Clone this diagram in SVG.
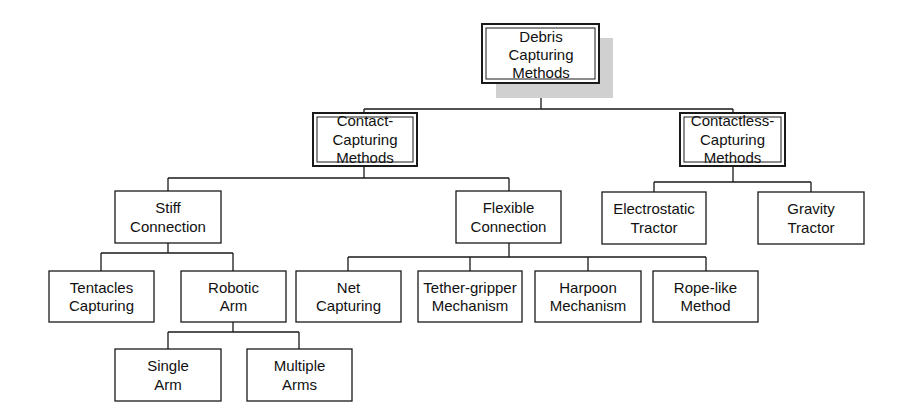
<svg xmlns="http://www.w3.org/2000/svg" width="924" height="409" viewBox="0 0 924 409">
<style>
  .box { fill: #ffffff; stroke: #1a1a1a; stroke-width: 1.3; }
  .outer { fill: #ffffff; stroke: #1a1a1a; stroke-width: 2; }
  .inner { fill: none; stroke: #1a1a1a; stroke-width: 1; }
  .shadow { fill: #d0d0d0; stroke: none; }
  .lbl { font-family: "Liberation Sans", Arial, sans-serif; font-size: 15px; fill: #111111; text-anchor: middle; }
  .conn { fill: none; stroke: #1a1a1a; stroke-width: 1.3; }
</style>
<rect width="924" height="409" fill="#ffffff"/>
<g id="connectors">
  <path class="conn" d="M541 83 V109 M364 109 H733 M364 109 V113 M733 109 V113"/>
  <path class="conn" d="M364 166 V178 M168 178 H509 M168 178 V191 M509 178 V191"/>
  <path class="conn" d="M733 166 V182 M654 182 H811 M654 182 V192 M811 182 V192"/>
  <path class="conn" d="M168 243 V253 M101 253 H233 M101 253 V271 M233 253 V271"/>
  <path class="conn" d="M509 243 V257 M348 257 H706 M348 257 V271 M470 257 V271 M588 257 V271 M706 257 V271"/>
  <path class="conn" d="M233 322 V332 M168 332 H299 M168 332 V349 M299 332 V349"/>
</g>
<g id="debris">
  <rect class="shadow" x="496" y="38" width="117" height="60"/>
  <rect class="outer" x="482" y="24" width="117" height="59"/>
  <rect class="inner" x="486" y="28" width="109" height="51"/>
  <text class="lbl" x="541" y="41.5">Debris</text>
  <text class="lbl" x="541" y="60">Capturing</text>
  <text class="lbl" x="541" y="78">Methods</text>
</g>
<g id="contact">
  <rect class="outer" x="313" y="113" width="104" height="53"/>
  <rect class="inner" x="317" y="117" width="96" height="45"/>
  <text class="lbl" x="365" y="126">Contact-</text>
  <text class="lbl" x="365" y="144.5">Capturing</text>
  <text class="lbl" x="365" y="163">Methods</text>
</g>
<g id="contactless">
  <rect class="outer" x="680" y="113" width="105" height="53"/>
  <rect class="inner" x="684" y="117" width="97" height="45"/>
  <text class="lbl" x="732.5" y="126">Contactless-</text>
  <text class="lbl" x="732.5" y="144.5">Capturing</text>
  <text class="lbl" x="732.5" y="163">Methods</text>
</g>
<g id="stiff">
  <rect class="box" x="115" y="191" width="106" height="52"/>
  <text class="lbl" x="168" y="213">Stiff</text>
  <text class="lbl" x="168" y="232">Connection</text>
</g>
<g id="flexible">
  <rect class="box" x="456" y="191" width="105" height="52"/>
  <text class="lbl" x="508.5" y="213">Flexible</text>
  <text class="lbl" x="508.5" y="232">Connection</text>
</g>
<g id="electrostatic">
  <rect class="box" x="602" y="192" width="104" height="52"/>
  <text class="lbl" x="654" y="214">Electrostatic</text>
  <text class="lbl" x="654" y="233">Tractor</text>
</g>
<g id="gravity">
  <rect class="box" x="758" y="192" width="106" height="52"/>
  <text class="lbl" x="811" y="214">Gravity</text>
  <text class="lbl" x="811" y="233">Tractor</text>
</g>
<g id="tentacles">
  <rect class="box" x="49" y="271" width="105" height="51"/>
  <text class="lbl" x="101.5" y="293">Tentacles</text>
  <text class="lbl" x="101.5" y="311">Capturing</text>
</g>
<g id="robotic">
  <rect class="box" x="181" y="271" width="105" height="51"/>
  <text class="lbl" x="233.5" y="293">Robotic</text>
  <text class="lbl" x="233.5" y="311">Arm</text>
</g>
<g id="net">
  <rect class="box" x="296" y="271" width="105" height="51"/>
  <text class="lbl" x="348.5" y="293">Net</text>
  <text class="lbl" x="348.5" y="311">Capturing</text>
</g>
<g id="tether">
  <rect class="box" x="418" y="271" width="104" height="51"/>
  <text class="lbl" x="470" y="293">Tether-gripper</text>
  <text class="lbl" x="470" y="311">Mechanism</text>
</g>
<g id="harpoon">
  <rect class="box" x="535" y="271" width="106" height="51"/>
  <text class="lbl" x="588" y="293">Harpoon</text>
  <text class="lbl" x="588" y="311">Mechanism</text>
</g>
<g id="rope">
  <rect class="box" x="653" y="271" width="105" height="51"/>
  <text class="lbl" x="705.5" y="293">Rope-like</text>
  <text class="lbl" x="705.5" y="311">Method</text>
</g>
<g id="single">
  <rect class="box" x="115" y="349" width="106" height="52"/>
  <text class="lbl" x="168" y="371">Single</text>
  <text class="lbl" x="168" y="390">Arm</text>
</g>
<g id="multiple">
  <rect class="box" x="247" y="349" width="105" height="52"/>
  <text class="lbl" x="299.5" y="371">Multiple</text>
  <text class="lbl" x="299.5" y="390">Arms</text>
</g>
</svg>
